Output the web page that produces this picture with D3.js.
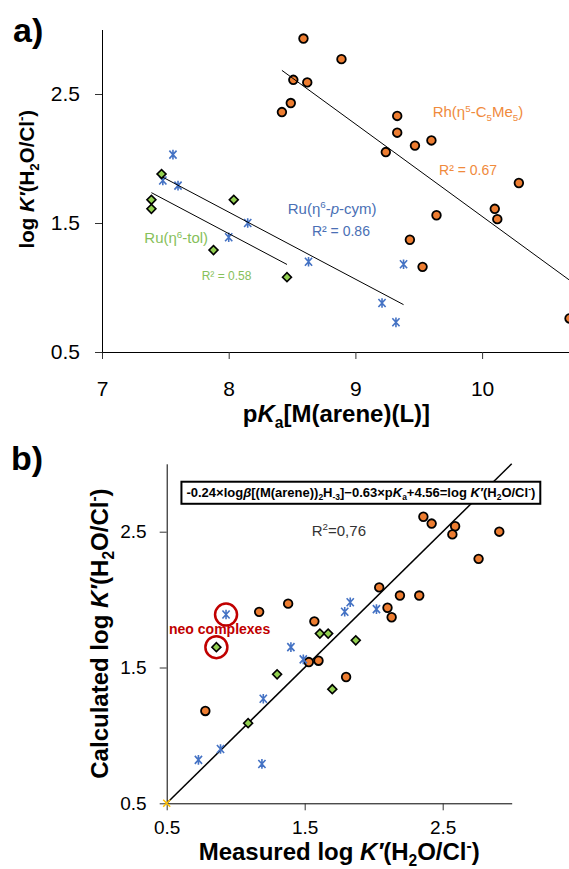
<!DOCTYPE html>
<html>
<head>
<meta charset="utf-8">
<script src="https://cdn.jsdelivr.net/npm/d3@7"></script>
<style>
  body { margin: 0; background: #fff; }
  text { font-family: Arial, "Liberation Sans", sans-serif; }
</style>
</head>
<body>
<svg id="chart" width="569" height="869"></svg>
<script>
// ---- panel a: pKa vs log K'(H2O/Cl-) ----
const rhPka = [8.59, 8.89, 8.51, 8.62, 8.49, 8.42, 9.33, 9.33, 9.47, 9.60, 9.24, 10.29, 10.10, 10.12, 9.64, 9.43, 9.53, 10.69];
const rhLogK = [2.93, 2.77, 2.61, 2.59, 2.43, 2.36, 2.33, 2.20, 2.10, 2.14, 2.05, 1.81, 1.61, 1.53, 1.56, 1.37, 1.16, 0.76];
const cymPka = [7.56, 7.48, 7.60, 8.15, 8.00, 8.63, 9.38, 9.21, 9.32];
const cymLogK = [2.03, 1.83, 1.79, 1.50, 1.39, 1.20, 1.18, 0.88, 0.73];
const tolPka = [7.47, 7.39, 7.39, 8.04, 7.88, 8.46];
const tolLogK = [1.88, 1.68, 1.61, 1.68, 1.29, 1.08];
const xTicksA = [7, 8, 9, 10];
const yTicksA = [0.5, 1.5, 2.5];

// ---- panel b: measured vs calculated ----
const rhMeasured = [2.36, 2.42, 2.59, 2.57, 2.91, 2.76, 2.04, 2.19, 2.33, 2.10, 2.13, 1.38, 1.17, 1.57, 1.53, 1.60, 1.80, 0.78];
const rhCalc = [2.61, 2.56, 2.54, 2.48, 2.50, 2.30, 2.09, 2.03, 2.03, 1.94, 1.87, 1.97, 1.91, 1.84, 1.54, 1.55, 1.43, 1.18];
const cymMeasured = [0.93, 1.40, 1.49, 1.79, 1.83, 2.02, 1.20, 0.73, 0.89, 1.19];
const cymCalc = [1.89, 1.65, 1.56, 1.91, 1.98, 1.93, 1.27, 0.82, 0.90, 0.79];
const tolMeasured = [0.86, 1.30, 1.61, 1.67, 1.87, 1.70, 1.09];
const tolCalc = [1.65, 1.45, 1.75, 1.75, 1.70, 1.34, 1.09];
const neoCymIndex = 0;   // the two "neo" complexes
const neoTolIndex = 0;
const anchorPoint = [[0.5, 0.5]];
const identityLine = [0.5, 3];
const ticksB = [0.5, 1.5, 2.5];

const orange = "#ED7D31", blue = "#4472C4", green = "#92D050";
const orangeText = "#F08A3C", blueText = "#4A6FB5", greenText = "#86C05A";
const red = "#C00000";

const svg = d3.select("#chart");

// helper for sub/superscripts
function addRich(sel, parts, size) {
  let shift = 0;
  parts.forEach(p => {
    const ts = sel.append("tspan").text(p.t);
    let target = 0, fs = size;
    if (p.sub) { target = size * 0.24; fs = size * 0.65; }
    if (p.sup) { target = -size * 0.38; fs = size * 0.65; }
    ts.attr("font-size", fs).attr("dy", target - shift);
    if (p.i) ts.attr("font-style", "italic");
    shift = target;
  });
  return sel;
}

function fit(xs, ys) {
  const mx = d3.mean(xs), my = d3.mean(ys);
  let sxy = 0, sxx = 0;
  xs.forEach((x, i) => { sxy += (x - mx) * (ys[i] - my); sxx += (x - mx) ** 2; });
  const b = sxy / sxx;
  return { b: b, a: my - b * mx, x0: d3.min(xs), x1: d3.max(xs) };
}

const starPath = "M-3.6,-4L3.6,4M-3.6,4L3.6,-4M0,-4.8V4.8";
const diamond = d3.symbol(d3.symbolSquare, 40);

function drawMarkers(g, xs, ys, kind, x, y) {
  const pts = xs.map((v, i) => [v, ys[i]]);
  const sel = g.append("g").selectAll("path").data(pts).join("path")
    .attr("transform", d => `translate(${x(d[0])},${y(d[1])})` + (kind === "diamond" ? " rotate(45)" : ""));
  if (kind === "circle") {
    sel.attr("d", d3.symbol(d3.symbolCircle, 58)).attr("fill", orange).attr("stroke", "#000").attr("stroke-width", 1.8);
  } else if (kind === "diamond") {
    sel.attr("d", diamond).attr("fill", green).attr("stroke", "#000").attr("stroke-width", 1.6);
  } else {
    sel.attr("d", starPath).attr("fill", "none").attr("stroke", blue).attr("stroke-width", 1.6);
  }
}

function styleAxis(g, size) {
  g.attr("font-size", size).attr("font-family", 'Arial, "Liberation Sans", sans-serif');
  g.selectAll("text").attr("fill", "#000");
  g.selectAll("line").attr("stroke", "#333");
  g.select(".domain").attr("stroke", "#000");
}

// ================= panel a =================
const xA = d3.scaleLinear().domain([7, 10.7]).range([102, 570.8]);
const yA = d3.scaleLinear().domain([0.5, 3]).range([352, 29.5]);
const gA = svg.append("g");

gA.append("g").attr("transform", `translate(0,${yA(0.5)})`)
  .call(d3.axisBottom(xA).tickValues(xTicksA).tickSize(7).tickSizeOuter(0).tickPadding(22).tickFormat(d3.format("d")))
  .call(g => styleAxis(g, 21));
gA.append("g").attr("transform", `translate(${xA(7)},0)`)
  .call(d3.axisLeft(yA).tickValues(yTicksA).tickSize(7).tickSizeOuter(0).tickPadding(15).tickFormat(d3.format(".1f")))
  .call(g => styleAxis(g, 21));

drawMarkers(gA, rhPka, rhLogK, "circle", xA, yA);
drawMarkers(gA, cymPka, cymLogK, "star", xA, yA);
drawMarkers(gA, tolPka, tolLogK, "diamond", xA, yA);

[[rhPka, rhLogK], [cymPka, cymLogK], [tolPka, tolLogK]].forEach(([xs, ys]) => {
  const f = fit(xs, ys);
  gA.append("line")
    .attr("x1", xA(f.x0)).attr("y1", yA(f.a + f.b * f.x0))
    .attr("x2", xA(f.x1)).attr("y2", yA(f.a + f.b * f.x1))
    .attr("stroke", "#000").attr("stroke-width", 1);
});

const labelsA = [
  { parts: [{ t: "Rh(η" }, { t: "5", sup: true }, { t: "-C" }, { t: "5", sub: true }, { t: "Me" }, { t: "5", sub: true }, { t: ")" }], x: 9.61, y: 2.32, color: orangeText, size: 15 },
  { parts: [{ t: "R² = 0.67" }], x: 9.66, y: 1.87, color: orangeText, size: 14 },
  { parts: [{ t: "Ru(η" }, { t: "6", sup: true }, { t: "-" }, { t: "p", i: true }, { t: "-cym)" }], x: 8.466, y: 1.57, color: blueText, size: 15 },
  { parts: [{ t: "R² = 0.86" }], x: 8.657, y: 1.40, color: blueText, size: 14 },
  { parts: [{ t: "Ru(η" }, { t: "6", sup: true }, { t: "-tol)" }], x: 7.334, y: 1.343, color: greenText, size: 15 },
  { parts: [{ t: "R² = 0.58" }], x: 7.787, y: 1.058, color: greenText, size: 12 }
];
labelsA.forEach(l => {
  const t = gA.append("text").attr("x", xA(l.x)).attr("y", yA(l.y)).attr("fill", l.color).attr("font-size", l.size);
  addRich(t, l.parts, l.size);
});

addRich(gA.append("text").attr("x", xA(8.85)).attr("y", 422).attr("text-anchor", "middle")
  .attr("font-weight", "bold"), [{ t: "p" }, { t: "K", i: true }, { t: "a", sub: true }, { t: "[M(arene)(L)]" }], 24);

addRich(gA.append("text").attr("transform", `translate(34,${yA(1.84)}) rotate(-90)`).attr("text-anchor", "middle")
  .attr("font-weight", "bold"),
  [{ t: "log " }, { t: "K′", i: true }, { t: "(H" }, { t: "2", sub: true }, { t: "O/Cl" }, { t: "-", sup: true }, { t: ")" }], 20.5);

svg.append("text").attr("x", 13).attr("y", 42).attr("font-size", 34).attr("font-weight", "bold").text("a)");

// ================= panel b =================
const xB = d3.scaleLinear().domain([0.5, 3]).range([166.7, 511.7]);
const yB = d3.scaleLinear().domain([0.5, 3]).range([803.3, 463.8]);
const gB = svg.append("g");

gB.append("g").attr("transform", `translate(0,${yB(0.5)})`)
  .call(d3.axisBottom(xB).tickValues(ticksB).tickSize(7).tickSizeOuter(0).tickPadding(10.5).tickFormat(d3.format(".1f")))
  .call(g => styleAxis(g, 19));
gB.append("g").attr("transform", `translate(${xB(0.5)},0)`)
  .call(d3.axisLeft(yB).tickValues(ticksB).tickSize(7).tickSizeOuter(0).tickPadding(13).tickFormat(d3.format(".1f")))
  .call(g => styleAxis(g, 19));

gB.append("line")
  .attr("x1", xB(identityLine[0])).attr("y1", yB(identityLine[0]))
  .attr("x2", xB(identityLine[1])).attr("y2", yB(identityLine[1]))
  .attr("stroke", "#000").attr("stroke-width", 1.5);

drawMarkers(gB, rhMeasured, rhCalc, "circle", xB, yB);
drawMarkers(gB, cymMeasured, cymCalc, "star", xB, yB);
drawMarkers(gB, tolMeasured, tolCalc, "diamond", xB, yB);

gB.selectAll(".anchor").data(anchorPoint).join("path").attr("class", "anchor")
  .attr("transform", d => `translate(${xB(d[0])},${yB(d[1])})`)
  .attr("d", "M-3.5,-3.5L3.5,3.5M-3.5,3.5L3.5,-3.5")
  .attr("stroke", "#FFC000").attr("stroke-width", 1.5);

// circles around neo complexes
const neoPts = [[cymMeasured[neoCymIndex], cymCalc[neoCymIndex]], [tolMeasured[neoTolIndex], tolCalc[neoTolIndex]]];
gB.selectAll(".neo").data(neoPts).join("circle").attr("class", "neo")
  .attr("cx", d => xB(d[0])).attr("cy", d => yB(d[1])).attr("r", 11)
  .attr("fill", "none").attr("stroke", red).attr("stroke-width", 2.5);

gB.append("text").attr("x", xB(0.517)).attr("y", yB(1.747)).attr("font-size", 14).attr("font-weight", "bold")
  .attr("fill", red).text("neo complexes");

// equation box
const eqG = gB.append("g");
const eq = eqG.append("text").attr("x", xB(1.907)).attr("y", yB(2.758)).attr("text-anchor", "middle").attr("font-weight", "bold");
addRich(eq, [{ t: "-0.24×log" }, { t: "β", i: true }, { t: "[(M(arene))" }, { t: "2", sub: true }, { t: "H" }, { t: "-3", sub: true },
  { t: "]−0.63×p" }, { t: "K", i: true }, { t: "a", sub: true }, { t: "+4.56=log " }, { t: "K′", i: true }, { t: "(H" },
  { t: "2", sub: true }, { t: "O/Cl" }, { t: "-", sup: true }, { t: ")" }], 13);
const bb = eq.node().getBBox();
eqG.insert("rect", ":first-child")
  .attr("x", bb.x - 5).attr("y", bb.y - 2).attr("width", bb.width + 10).attr("height", bb.height + 4)
  .attr("fill", "#fff").attr("stroke", "#000").attr("stroke-width", 2);

addRich(gB.append("text").attr("x", xB(1.551)).attr("y", yB(2.471)).attr("fill", "#333"),
  [{ t: "R" }, { t: "2", sup: true }, { t: "=0,76" }], 15);

addRich(gB.append("text").attr("x", xB(1.75)).attr("y", 860).attr("text-anchor", "middle").attr("font-weight", "bold"),
  [{ t: "Measured log " }, { t: "K′", i: true }, { t: "(H" }, { t: "2", sub: true }, { t: "O/Cl" }, { t: "-", sup: true }, { t: ")" }], 24);

addRich(gB.append("text").attr("transform", `translate(108,${yB(1.75)}) rotate(-90)`).attr("text-anchor", "middle").attr("font-weight", "bold"),
  [{ t: "Calculated log " }, { t: "K′", i: true }, { t: "(H" }, { t: "2", sub: true }, { t: "O/Cl" }, { t: "-", sup: true }, { t: ")" }], 24);

svg.append("text").attr("x", 11).attr("y", 470).attr("font-size", 34).attr("font-weight", "bold").text("b)");
</script>
</body>
</html>
